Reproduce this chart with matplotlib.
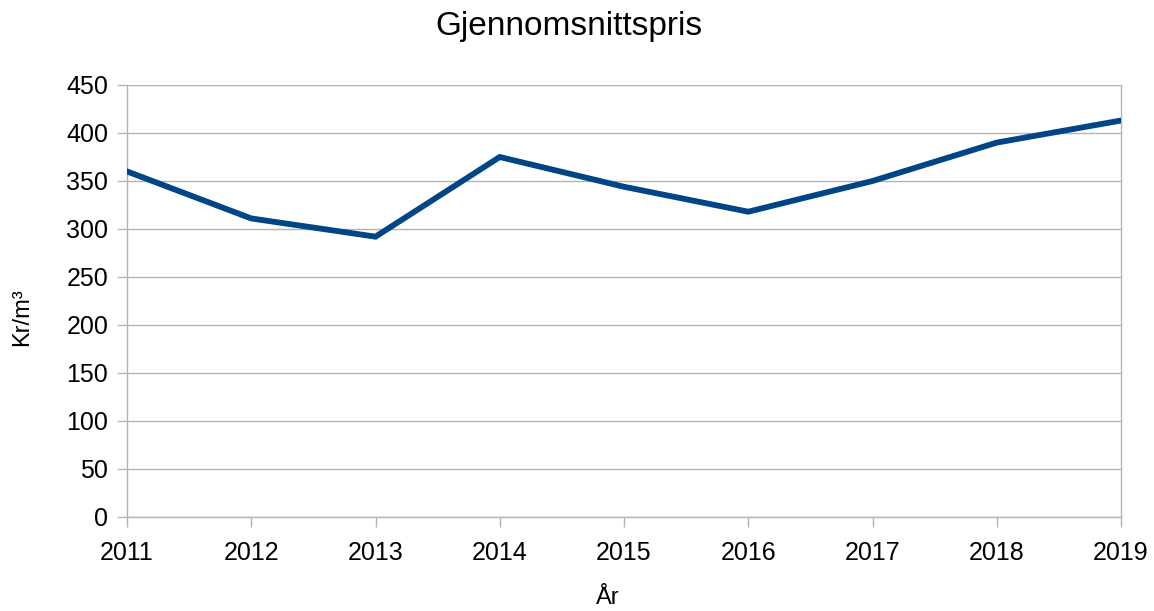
import matplotlib.pyplot as plt

plt.rcParams['font.family'] = ['Liberation Sans', 'DejaVu Sans']

years = [2011, 2012, 2013, 2014, 2015, 2016, 2017, 2018, 2019]
pris = [360, 311, 292, 375, 344, 318, 350, 390, 413]
y_ticks = [0, 50, 100, 150, 200, 250, 300, 350, 400, 450]

W, H = 1154, 611
fig = plt.figure(figsize=(W / 100, H / 100), dpi=100)
ax = fig.add_axes([127 / W, (H - 517) / H, (1121 - 127) / W, (517 - 85) / H])

ax.plot(years, pris, color='#004586', linewidth=4.2, solid_joinstyle='miter', zorder=3)

ax.set_xlim(years[0], years[-1])
ax.set_ylim(0, 450)
ax.set_xticks(years)
ax.set_yticks(y_ticks)
ax.grid(axis='y', color='#b3b3b3', linewidth=1)
ax.set_axisbelow(True)

for s in ['left', 'bottom', 'right']:
    ax.spines[s].set_color('#b3b3b3')
    ax.spines[s].set_linewidth(1)
ax.spines['top'].set_visible(False)

ax.tick_params(axis='both', colors='#b3b3b3', labelcolor='black', labelsize=18,
               length=7.5, width=1, direction='out')
ax.tick_params(axis='x', pad=10)
ax.tick_params(axis='y', pad=6)

fig.text(569 / W, 1 - 27 / H, 'Gjennomsnittspris', ha='center', va='center', fontsize=24)
fig.text(22 / W, 1 - 317 / H, 'Kr/m³', ha='center', va='center', rotation=90, fontsize=17)
fig.text(608 / W, 1 - 598 / H, 'År', ha='center', va='center', fontsize=17)

fig.savefig('out.png', dpi=100)
